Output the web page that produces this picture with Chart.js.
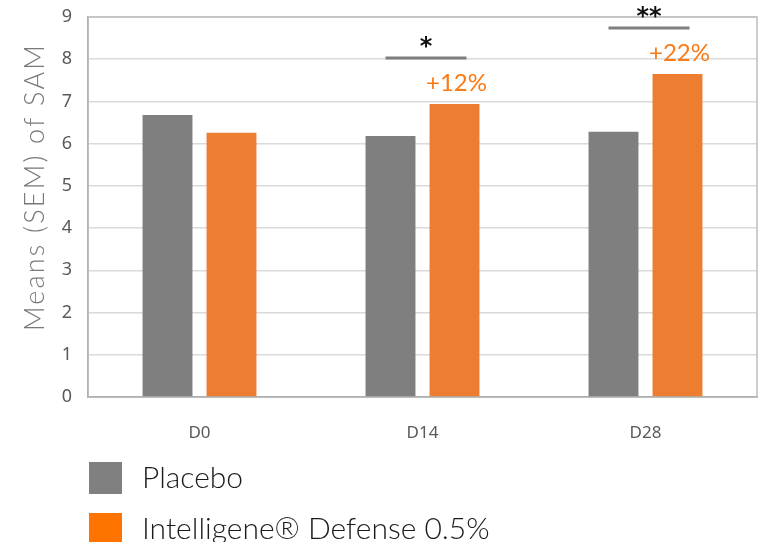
<!DOCTYPE html>
<html>
<head>
<meta charset="utf-8">
<script src="https://cdn.jsdelivr.net/npm/chart.js@4.4.1/dist/chart.umd.min.js"></script>
<style>
html,body{margin:0;padding:0;background:#fff;}
#wrap{width:759px;height:542px;position:relative;}
</style>
</head>
<body>
<div id="wrap"><canvas id="c" width="759" height="542"></canvas></div>
<script>
// ---- data ----
const categories = ['D0', 'D14', 'D28'];
const seriesNames = ['Placebo', 'Intelligene® Defense 0.5%'];
const placebo = [6.68, 6.18, 6.28];
const intelligene = [6.26, 6.94, 7.65];
const yTicks = [0, 1, 2, 3, 4, 5, 6, 7, 8, 9];
const sigMarks = ['', '*', '**'];
const pctLabels = ['', '+12%', '+22%'];
const yTitle = 'Means (SEM) of SAM';

// ---- styles ----
const GREY = '#7f7f7f';
const ORANGE = '#ed7d31';
const LEGEND_COLORS = ['#808080', '#ff7300'];
const LABEL_ORANGE = '#fb7a14';

const annotPlugin = {
  id: 'annot',
  beforeDatasetsDraw(chart) {
    const {ctx, chartArea: a} = chart;
    ctx.save();
    ctx.strokeStyle = '#bdbdbd';
    ctx.lineWidth = 1.5;
    ctx.strokeRect(a.left, a.top, a.right - a.left, a.bottom - a.top);
    ctx.restore();
  },
  afterDraw(chart) {
    const {ctx} = chart;
    const m0 = chart.getDatasetMeta(0).data;
    const m1 = chart.getDatasetMeta(1).data;
    ctx.save();
    categories.forEach((c, i) => {
      const g = m0[i], o = m1[i];
      if (sigMarks[i]) {
        const ly = Math.round(o.y - 46);
        ctx.strokeStyle = '#7f7f7f';
        ctx.lineWidth = 3;
        ctx.beginPath();
        ctx.moveTo(g.x - 5, ly);
        ctx.lineTo(o.x + 12, ly);
        ctx.stroke();
        ctx.fillStyle = '#111';
        ctx.font = 'bold 24px "DejaVu Sans", sans-serif';
        ctx.textAlign = 'center';
        ctx.textBaseline = 'middle';
        ctx.fillText(sigMarks[i], (g.x - 5 + o.x + 12) / 2, ly - 10);
      }
      if (pctLabels[i]) {
        ctx.fillStyle = LABEL_ORANGE;
        ctx.font = '400 24px Lato, "Open Sans", sans-serif';
        ctx.textAlign = 'center';
        ctx.textBaseline = 'middle';
        ctx.fillText(pctLabels[i], o.x + 2, o.y - 21);
      }
    });
    // y title
    ctx.save();
    ctx.translate(35, 187);
    ctx.rotate(-Math.PI / 2);
    ctx.fillStyle = '#7a7a7a';
    ctx.font = '300 27px Lato, "Open Sans", sans-serif';
    ctx.letterSpacing = '2.2px';
    ctx.textAlign = 'center';
    ctx.textBaseline = 'middle';
    ctx.fillText(yTitle, 0, 0);
    ctx.restore();
    // legend
    chart.data.datasets.forEach((ds, i) => {
      const top = 462 + i * 51;
      ctx.fillStyle = LEGEND_COLORS[i];
      ctx.fillRect(89, top, 33, 32);
      ctx.fillStyle = '#1a1a1a';
      ctx.font = '300 30px Lato, "Open Sans", sans-serif';
      ctx.textAlign = 'left';
      ctx.textBaseline = 'middle';
      ctx.fillText(ds.label, 142, top + 16);
    });
    ctx.restore();
  }
};

new Chart(document.getElementById('c'), {
  type: 'bar',
  data: {
    labels: categories,
    datasets: [
      {label: seriesNames[0], data: placebo, backgroundColor: GREY, borderWidth: 0},
      {label: seriesNames[1], data: intelligene, backgroundColor: ORANGE, borderWidth: 0}
    ]
  },
  options: {
    responsive: false,
    animation: false,
    devicePixelRatio: 1,
    categoryPercentage: 0.574,
    barPercentage: 0.78,
    layout: {padding: {left: 0, right: 2, top: 17, bottom: 95}},
    plugins: {legend: {display: false}, tooltip: {enabled: false}},
    scales: {
      x: {
        afterFit(s) { s.height = 50; s.paddingLeft = 0; s.paddingRight = 0; },
        grid: {display: false, drawTicks: false},
        border: {display: true, color: '#8c8c8c', width: 1.5},
        ticks: {padding: 26, color: '#595959', font: {family: '"Noto Sans", sans-serif', size: 17}}
      },
      y: {
        min: 0, max: 9,
        afterFit(s) { s.width = 88; s.paddingTop = 0; s.paddingBottom = 0; },
        afterBuildTicks(s) { s.ticks = yTicks.map(v => ({value: v})); },
        grid: {color: '#dadada', lineWidth: 1.5, drawTicks: false},
        border: {display: true, color: '#8c8c8c', width: 1.5},
        ticks: {padding: 16, color: '#595959', font: {family: '"Noto Sans", sans-serif', size: 18}}
      }
    }
  },
  plugins: [annotPlugin]
});
</script>
</body>
</html>
